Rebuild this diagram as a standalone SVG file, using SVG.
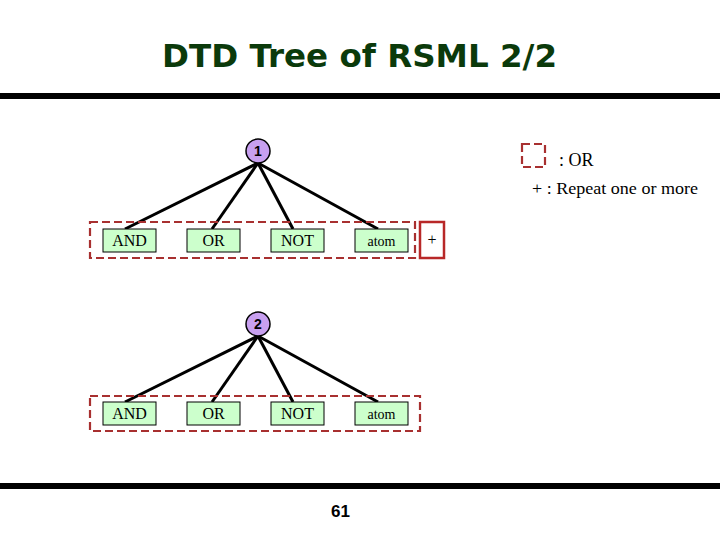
<svg xmlns="http://www.w3.org/2000/svg" width="720" height="540" viewBox="0 0 720 540">
<style>
.title{font-family:"DejaVu Sans",Verdana,sans-serif;font-weight:bold;font-size:32px;fill:#0B3A0B}
.lbl{font-family:"Liberation Serif","Times New Roman",serif;font-size:16px;fill:#000}
.sm{font-size:14px}
.box{fill:#CCFFCC;stroke:#000;stroke-width:1}
.circ{fill:#C8A0F0;stroke:#000;stroke-width:1.5}
.num{font-family:"Liberation Sans",Arial,sans-serif;font-weight:bold;font-size:14px;fill:#000}
.dash{fill:none;stroke:#A83030;stroke-width:2.2;stroke-dasharray:8 4}
.solid{fill:none;stroke:#B82828;stroke-width:2.5}
.edge{stroke:#000;stroke-width:3;fill:none}
.bar{fill:#000}
</style>
<rect width="720" height="540" fill="#fff"/>
<text class="title" x="162" y="67" textLength="395" lengthAdjust="spacingAndGlyphs">DTD Tree of RSML 2/2</text>
<rect class="bar" x="0" y="93" width="720" height="6"/>
<rect class="bar" x="0" y="483" width="720" height="6"/>
<text x="340.5" y="517" text-anchor="middle" style="font-family:'Liberation Sans',Arial,sans-serif;font-size:17px;font-weight:bold">61</text>

<g id="connectors">
<line class="edge" x1="258" y1="163" x2="125" y2="229"/>
<line class="edge" x1="258" y1="163" x2="212" y2="229"/>
<line class="edge" x1="258" y1="163" x2="293" y2="229"/>
<line class="edge" x1="258" y1="163" x2="378" y2="229"/>
<line class="edge" x1="258" y1="336" x2="125" y2="402"/>
<line class="edge" x1="258" y1="336" x2="212" y2="402"/>
<line class="edge" x1="258" y1="336" x2="293" y2="402"/>
<line class="edge" x1="258" y1="336" x2="378" y2="402"/>
</g>

<g id="legend">
<rect class="dash" x="522" y="144" width="23" height="23"/>
<text class="lbl" x="559" y="166" style="font-size:18px">: OR</text>
<text class="lbl" x="532" y="194" style="font-size:17px" textLength="166" lengthAdjust="spacingAndGlyphs">+ : Repeat one or more</text>
</g>

<g id="tree1">
<rect class="dash" x="90" y="222" width="325" height="36"/>
<rect class="solid" x="420" y="222" width="24" height="36"/>
<text class="lbl" x="432" y="245" text-anchor="middle">+</text>
<g id="n1"><circle class="circ" cx="258" cy="151" r="12"/><text class="num" x="258" y="156" text-anchor="middle">1</text></g>
<g id="t1-and"><rect class="box" x="103" y="229" width="53" height="23"/><text class="lbl" x="129.5" y="246" text-anchor="middle">AND</text></g>
<g id="t1-or"><rect class="box" x="187" y="229" width="53" height="23"/><text class="lbl" x="213.5" y="246" text-anchor="middle">OR</text></g>
<g id="t1-not"><rect class="box" x="271" y="229" width="53" height="23"/><text class="lbl" x="297.5" y="246" text-anchor="middle">NOT</text></g>
<g id="t1-atom"><rect class="box" x="355" y="229" width="53" height="23"/><text class="lbl sm" x="381.5" y="246" text-anchor="middle">atom</text></g>
</g>

<g id="tree2">
<rect class="dash" x="90" y="396" width="330" height="35"/>
<g id="n2"><circle class="circ" cx="258" cy="324" r="12"/><text class="num" x="258" y="329" text-anchor="middle">2</text></g>
<g id="t2-and"><rect class="box" x="103" y="402" width="53" height="23"/><text class="lbl" x="129.5" y="419" text-anchor="middle">AND</text></g>
<g id="t2-or"><rect class="box" x="187" y="402" width="53" height="23"/><text class="lbl" x="213.5" y="419" text-anchor="middle">OR</text></g>
<g id="t2-not"><rect class="box" x="271" y="402" width="53" height="23"/><text class="lbl" x="297.5" y="419" text-anchor="middle">NOT</text></g>
<g id="t2-atom"><rect class="box" x="355" y="402" width="53" height="23"/><text class="lbl sm" x="381.5" y="419" text-anchor="middle">atom</text></g>
</g>
</svg>
